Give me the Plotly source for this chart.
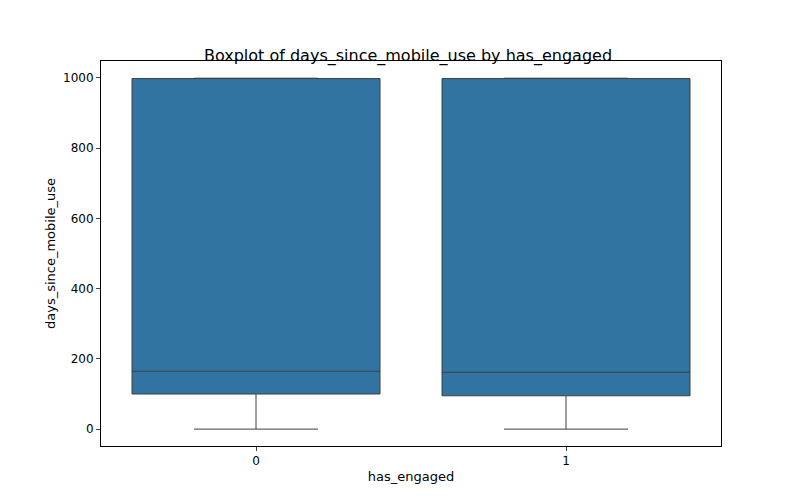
import plotly.graph_objects as go

groups = [0, 1]
q1 = [100, 95]
medians = [165, 162]
q3 = [998, 998]
lower = [0, 0]
upper = [999, 999]

fig = go.Figure()
for i, g in enumerate(groups):
    fig.add_trace(go.Box(
        x=[g], q1=[q1[i]], median=[medians[i]], q3=[q3[i]],
        lowerfence=[lower[i]], upperfence=[upper[i]],
        width=0.8, whiskerwidth=0.5,
        fillcolor='#3274a1', line=dict(color='#3f3f3f', width=1),
        boxpoints=False, showlegend=False, hoverinfo='y'
    ))

fig.update_layout(
    width=800, height=500,
    margin=dict(l=93, r=87, t=53, b=62),
    plot_bgcolor='white', paper_bgcolor='white',
    font=dict(family='DejaVu Sans', size=12, color='black'),
    title=dict(text='Boxplot of days_since_mobile_use by has_engaged',
               x=0.5, xanchor='center', y=0.895, yanchor='bottom', font=dict(size=16)),
)
fig.update_xaxes(range=[-0.5, 1.5], tickvals=groups, ticktext=[str(g) for g in groups],
                 title=dict(text='has_engaged', standoff=4, font=dict(size=13)), showgrid=False, zeroline=False,
                 showline=True, linecolor='black', mirror=True, ticks='outside', ticklen=4,
                 tickfont=dict(size=12))
fig.update_yaxes(range=[-48, 1048], tickvals=[0, 200, 400, 600, 800, 1000],
                 title=dict(text='days_since_mobile_use', standoff=4, font=dict(size=13)), showgrid=False, zeroline=False,
                 showline=True, linecolor='black', mirror=True, ticks='outside', ticklen=4,
                 tickfont=dict(size=12))

fig.write_html("out.html")
